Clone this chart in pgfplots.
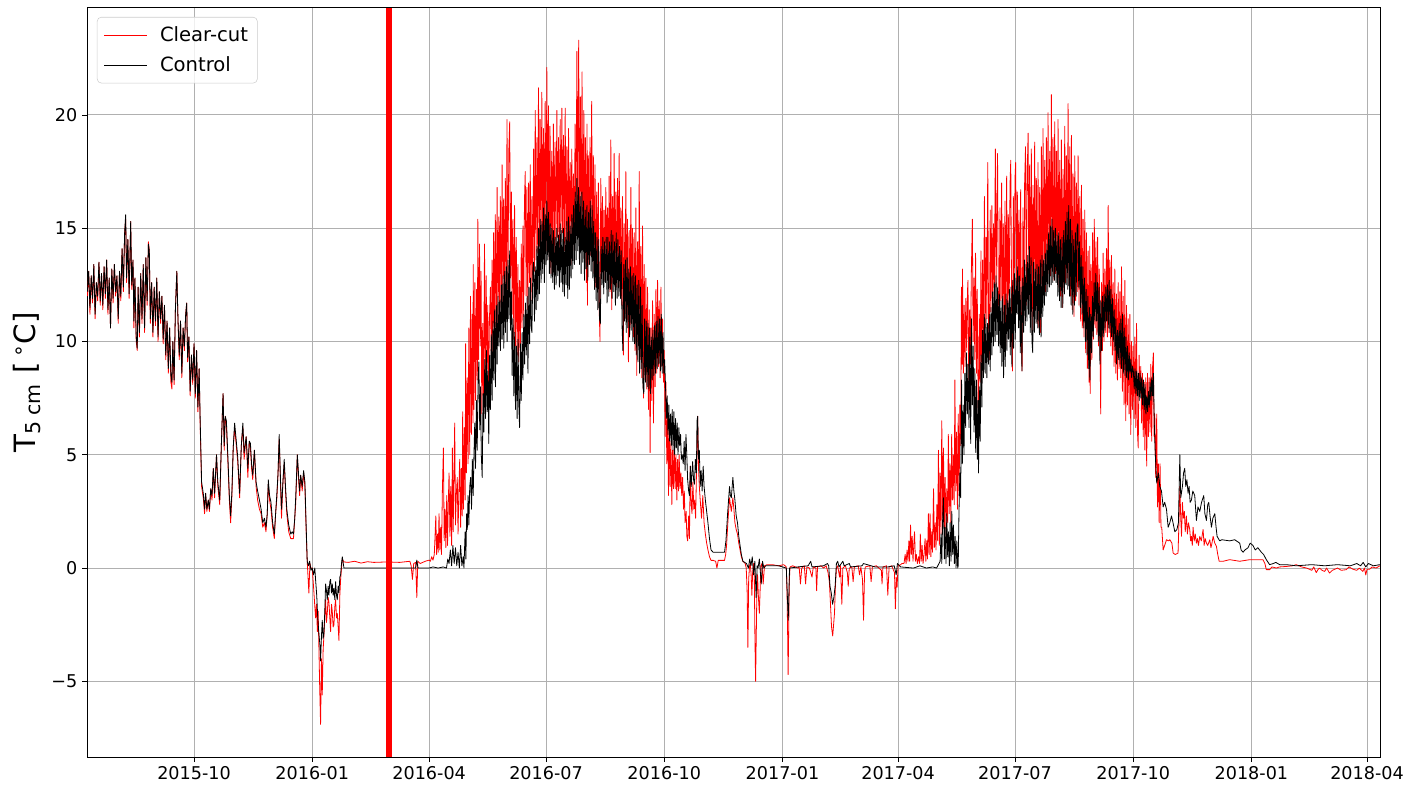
\documentclass[border=0pt]{standalone}
\usepackage{fontspec}
\setmainfont{DejaVu Sans}
\usepackage{pgfplots}
\pgfplotsset{compat=1.18}
\definecolor{gridgray}{HTML}{B0B0B0}
\definecolor{legendgray}{HTML}{CCCCCC}
\begin{document}
\begin{tikzpicture}
\begin{axis}[
 name=ax,
 scale only axis,
 width=969.75pt, height=561.75pt,
 xmin=-83.3, xmax=923.1, ymin=-8.34, ymax=24.72,
 xtick={0,92,183,274,366,458,548,639,731,823,913},
 xticklabels={2015-10,2016-01,2016-04,2016-07,2016-10,2017-01,2017-04,2017-07,2017-10,2018-01,2018-04},
 ytick={-5,0,5,10,15,20},
 yticklabels={−5,0,5,10,15,20},
 xtick pos=lower, ytick pos=left,
 tick align=outside,
 major tick length=3.75pt,
 tick style={black, line width=0.6pt},
 grid=major,
 major grid style={gridgray, line width=0.75pt},
 axis line style={black, line width=0.75pt},
 tick label style={font=\fontsize{13.2}{15.8}\selectfont, text=black},
 ylabel={T\textsubscript{5 cm} [\,\textsuperscript{∘}C]},
 ylabel style={font=\fontsize{22}{26}\selectfont, at={(axis description cs:-0.0465,0.5)}, anchor=center},
 legend style={at={(0.0077,0.988)}, anchor=north west, draw=legendgray, rounded corners=3pt, fill=white, fill opacity=0.8, draw opacity=1, text opacity=1, font=\fontsize{14.7}{17.6}\selectfont, inner xsep=5pt, inner ysep=5pt, row sep=6pt, cells={anchor=west}, /tikz/every odd column/.append style={column sep=7.5pt}},
 legend image code/.code={\draw[#1] (0pt,0pt) -- (32pt,0pt);},
]
\addplot[red, line width=0.6pt, line join=round] coordinates {
(-83,12.0) (-82,13.1) (-81,11.2) (-80,12.9) (-79,11.7) (-78,13.4) (-77,11.0) (-76,12.6) (-75,11.8) (-74,13.5) (-73,11.6) (-72,13.0) (-71,11.4) (-70,13.3) (-69,11.9) (-68,13.6) (-67,11.2) (-66,12.8) (-65,10.6) (-64,13.2) (-63,11.7) (-62,13.4) (-61,12.0) (-60,12.9) (-59,10.8) (-58,13.1) (-57,11.8) (-56,14.1) (-55,12.2) (-54,14.8) (-53.2,15.4) (-52.5,12.6) (-51.5,14.5) (-50.5,11.9) (-49.3,15.3) (-48.5,12.3) (-47.5,13.6) (-46.8,10.6) (-46,12.8) (-45,10.0) (-44.2,9.6) (-43.5,12.4) (-42.5,10.2) (-41.5,13.0) (-40.5,10.8) (-39.5,13.4) (-38.5,10.4) (-37.5,13.7) (-36.5,11.6) (-35.5,14.4) (-34.8,14.0) (-34,10.8) (-33,12.6) (-32,10.2) (-31,12.4) (-30,10.7) (-29,12.8) (-28,10.0) (-27,12.2) (-26,10.8) (-25,12.0) (-24,9.9) (-23,11.6) (-22,9.2) (-21,10.9) (-20,8.6) (-19,10.6) (-18,8.2) (-17.2,7.9) (-16.5,10.0) (-15.5,8.1) (-14.5,11.4) (-13.4,13.1) (-12.5,11.0) (-11.5,9.2) (-10.5,10.9) (-9.5,8.4) (-8.5,10.6) (-7.5,9.6) (-6.5,11.2) (-5.7,11.7) (-5,9.1) (-4,10.2) (-3,7.6) (-2,9.4) (-1,8.1) (0,9.9) (1,7.5) (2,9.6) (3,6.9) (4,8.8) (4.8,6.3) (5.9,3.6) (7.2,3.1) (8.2,2.4) (9,3.3) (10,2.5) (11.1,3.0) (12,2.5) (13,3.5) (14,3.0) (15,4.4) (16,3.1) (17.5,5.0) (18.5,3.6) (20,2.8) (21.3,5.5) (22.6,7.7) (23.5,5.2) (24.3,6.7) (25.2,6.3) (26.5,4.5) (27.5,3.0) (28.5,2.0) (29.5,3.2) (30.5,5.3) (31.6,6.2) (32.9,5.4) (34,4.7) (35.5,3.1) (36.8,5.4) (38,6.2) (39,4.8) (40.6,5.8) (41.9,4.0) (43,5.6) (43.9,5.3) (44.8,4.4) (45.7,3.9) (47,5.2) (48.3,3.6) (49.5,3.0) (50.9,2.6) (52.2,2.4) (53.5,1.8) (54.8,2.0) (56,1.6) (57,2.4) (57.8,3.7) (58.8,3.0) (59.9,2.6) (61.2,1.8) (62.5,1.3) (63.5,2.4) (64.5,3.1) (65.4,4.2) (66.3,5.7) (67.2,3.9) (68.1,2.2) (69.2,3.8) (70.2,4.6) (71.2,3.4) (72.2,2.4) (73.7,1.6) (75.3,1.3) (76.4,1.3) (77.4,1.3) (78.4,2.2) (79.2,2.9) (80.4,5.0) (81.5,3.8) (82.2,3.2) (83,4.1) (84.2,3.4) (85.3,4.2) (86.3,3.6)
(87.3,1.6) (88.1,0.3) (89.4,-1.1) (90.2,0.2) (91,0.0) (92,0.0) (93,-0.8) (93.8,-1.5) (94.6,-2.2) (95.3,-1.6) (96,-2.8) (96.6,-1.9) (97.2,-3.5) (97.8,-5.2) (98.5,-6.9) (99.2,-4.0) (99.8,-5.6) (100.5,-3.6) (101.1,-3.0) (101.8,-2.1) (102.4,-1.4) (103.1,-2.4) (103.7,-2.0) (104.4,-1.3) (105,-1.5) (105.7,-2.2) (106.3,-2.8) (107,-1.6) (107.6,-1.9) (108.3,-2.6) (108.9,-2.5) (109.6,-1.7) (110.2,-1.4) (110.9,-2.2) (111.5,-2.0) (112.2,-2.6) (112.8,-3.2) (113.5,-1.2) (114.1,-0.5) (114.8,0.0) (115.4,0.4) (116.7,0.27) (120,0.25) (125,0.3) (130,0.22) (135,0.28) (140,0.25) (150,0.27) (160,0.25) (168,0.3) (169,0.1) (170,-0.5) (171,0.2) (172.5,0.25) (173.4,-1.3) (174.2,0.3) (176,0.2) (180,0.3) (183,0.35)
(184,0.3) (185,0.5) (186,0.35) (187,0.6) (187.6,1.4) (188.2,2.3) (188.8,0.6) (189.5,1.5) (190.1,0.7) (190.7,2.4) (191.3,0.8) (192,1.8) (192.6,0.6) (193.3,3.4) (194.1,5.3) (194.7,1.2) (195.4,2.6) (196,0.9) (196.7,3.2) (197.3,1.0) (197.9,2.8) (198.5,4.2) (199.2,1.4) (199.8,3.6) (200.5,1.0) (201.1,5.3) (201.7,1.6) (202.3,4.0) (202.9,6.4) (203.5,1.9) (204.2,3.3) (204.9,4.0) (205.5,1.5) (206.2,3.6) (206.8,4.8) (207.5,1.8) (208.1,4.4) (208.7,2.3) (209.1,6.9) (209.7,2.6) (210.4,6.2) (211,3.0) (211.4,9.9) (212,4.2) (212.7,8.4) (213.3,4.6) (213.9,10.6) (214.6,5.0) (215.2,12.0) (215.9,5.9) (216.5,11.2) (217.1,6.4) (217.3,13.4) (217.9,7.0) (218.6,12.6) (219.2,7.4) (219.9,12.3) (220.5,8.3) (220.9,15.4) (221.5,9.2) (222.2,14.3) (222.8,9.8) (223.4,13.1) (224,6.8) (224.7,10.8) (225.3,7.2) (226.1,14.3) (226.7,8.2) (227.4,12.9) (228,8.5) (228.6,11.6) (229.3,7.8) (229.9,10.9) (230.7,12.4) (231.3,9.4) (232,13.6) (232.6,9.1) (233.2,14.8) (233.9,9.9) (234.5,15.6) (235.2,10.3) (235.9,16.8) (236.5,10.8) (237.2,15.5) (237.8,11.4) (238.4,16.4) (239.1,11.1) (239.8,17.8) (240.4,11.6) (241,16.3) (241.7,12.0) (242.3,17.2) (243,11.4) (243.6,19.8) (244.3,12.3) (245,18.4) (245.7,19.7) (246.3,12.8) (247,16.6) (247.6,11.2) (248.2,15.4) (248.9,10.1) (249.5,16.0) (250.2,9.8) (250.8,14.6) (251.5,9.4) (252.1,13.4) (252.7,9.1) (253.4,12.7) (254,9.6) (254.7,14.3) (255.3,10.6) (256,15.1) (256.6,11.1) (257.2,16.2) (257.8,17.5) (258.5,12.0) (259.1,16.8) (259.8,11.4) (260.4,17.0) (261.1,12.6) (261.7,17.8) (262.3,11.8) (263,16.4) (263.6,12.7) (264.3,18.5) (264.9,13.1) (265.6,20.2) (266.2,13.6) (266.9,19.0) (267.5,13.9) (268.1,21.2) (268.8,14.2) (269.4,19.8) (270.1,14.0) (270.7,21.0) (271.4,13.6) (272,19.4) (272.7,14.4) (273.3,20.6) (274,14.0) (274.6,22.1)
(275.3,14.3) (275.9,20.4) (276.5,13.6) (277.1,19.5) (277.8,13.0) (278.4,18.4) (279.1,14.0) (279.7,19.6) (280.4,13.8) (281,18.8) (281.7,14.2) (282.4,20.2) (283,14.6) (283.7,19.0) (284.3,13.9) (285,19.8) (285.6,14.4) (286.3,20.3) (286.9,14.8) (287.6,19.1) (288.2,14.0) (288.9,20.3) (289.5,13.8) (290.2,18.6) (290.8,13.5) (291.5,19.4) (292.1,14.1) (292.8,17.9) (293.4,13.4) (294,18.5) (294.7,14.0) (295.3,17.4) (296,14.6) (296.6,19.6) (297.3,15.0) (298,22.8) (298.6,15.4) (299.4,23.3) (300,15.0) (300.7,20.8) (301.3,14.8) (302,21.9) (302.6,14.2) (303.4,20.2) (304,13.9) (304.6,19.0) (305.3,12.6) (305.9,19.6) (306.2,11.6) (306.9,18.2) (307.5,13.4) (308.2,19.0) (308.8,13.8) (309.5,20.6) (310.1,14.1) (310.8,18.2) (311.4,13.0) (312.1,17.8) (312.7,12.4) (313.4,16.6) (314,12.2) (314.7,17.0) (315.3,11.6) (316,10.0) (316.6,17.2) (317.3,13.0) (317.9,16.4) (318.6,13.2) (319.2,15.8) (319.9,12.7) (320.5,16.8) (321.2,13.1) (321.8,15.9) (322.5,12.8) (323.1,17.3) (323.8,12.2) (324.4,18.9) (325.1,11.4) (325.7,16.4) (326.4,12.6) (327,18.3) (327.7,13.2) (328.3,16.6) (329,12.4) (329.6,17.2) (330.3,12.8) (330.9,18.3) (331.6,12.4) (332.2,15.9) (332.9,11.6) (333.5,16.4) (334.2,9.4) (334.8,15.2) (335.5,11.0) (336.1,17.5) (336.8,10.9) (337.4,15.4) (338.1,9.1) (338.7,14.9) (339.4,10.6) (340,16.8) (340.7,10.8) (341.3,15.0) (342,10.2) (342.6,14.8) (343.3,9.6) (343.9,15.9) (344.6,8.5) (345.2,14.4) (345.9,9.8) (346.5,17.5) (347.2,9.2) (347.8,14.2) (348.5,8.4) (349.1,15.1) (349.8,7.5) (350.4,13.4) (351.1,8.3) (351.7,12.8) (352.4,7.9) (353,12.4) (353.7,7.0) (354.3,11.4) (355,5.1) (355.6,10.6) (356.3,7.4) (356.9,11.8) (357.6,6.4) (358.2,11.2) (358.9,8.0) (359.5,12.3) (360.2,8.6) (360.8,12.7) (361.5,8.9) (362.1,11.8) (362.8,8.4) (363.4,12.4) (364.1,8.9) (364.7,11.0) (365.4,8.2) (366,9.6) (366.7,5.8) (367.3,8.2) (368,4.6) (368.6,7.2) (369.3,3.2) (369.9,6.2) (370.6,3.6) (371.2,5.6) (371.9,2.8) (372.5,5.2) (373.2,3.5) (373.8,5.6) (374.5,3.5) (375.1,5.0) (375.8,3.0) (376.4,4.8) (377.1,3.4) (377.6,5.0) (378.3,3.5) (379,4.2) (379.6,3.2) (380.3,4.0) (381,2.6) (381.6,3.4) (382.2,2.0) (383,2.5) (383.6,1.4) (384.2,1.2) (385,2.3) (385.6,1.3) (386.3,4.5) (387,2.8) (387.6,2.4) (388.3,3.8) (389,2.6) (389.7,3.0) (390.4,2.2) (391.2,4.6) (392,6.7) (392.6,4.5) (393.3,3.6) (394,3.0) (395,2.2) (396,3.2) (397,2.0) (398,1.5) (399,1.1) (400,0.8) (401.2,0.5) (402.4,0.34) (404,0.34) (406,0.3) (407,0.0) (408,0.34) (412.9,0.34) (413.8,0.6) (414.5,1.0) (415.5,2.0) (416.8,3.1) (417.5,2.8) (418.2,2.5) (419.4,3.1) (420.2,2.6) (421,2.0) (422,1.7) (423,1.5) (424,1.1) (425,0.8) (426,0.5) (427.2,0.3) (429,0.2) (429.8,0.0) (430.5,-1.0) (431.1,-3.5) (431.7,-0.5) (432.4,0.1) (433,0.2) (433.6,-0.3) (434.2,-1.2) (434.8,-0.2) (435.5,0.2) (436.1,-0.4) (436.6,-3.2) (437.1,-5.0) (437.6,-3.0) (438.1,-1.0) (438.6,-0.3) (439.3,-1.3) (440,-2.0) (440.6,-1.0) (441.2,0.1) (442,0.2) (443,-0.7) (444,0.1) (446,0.15) (450,0.15) (455,0.1) (459,0.15) (461,0.05) (461.6,-1.2) (462.1,-3.2) (462.4,-4.7) (462.8,-3.0) (463.3,-0.6) (463.9,0.05) (466,0.1) (470,0.0) (471,0.05) (472,-0.7) (473,0.0) (475,0.1) (476,-0.7) (477,0.05) (479,0.0) (481,-0.4) (482,0.05) (484,0.0) (484.6,-1.0) (485.3,0.05) (488,0.1) (490,0.0) (492,0.1) (493.5,-0.2) (494.5,-0.6) (495.3,-1.5) (496.2,-2.6) (497.1,-3.0) (497.8,-2.5) (498.5,-2.0) (499.2,-0.8) (500,0.0) (501,0.1) (502.5,-0.4) (503.2,0.1) (504.2,-1.6) (505,0.0) (507,0.1) (508.5,-0.2) (509.2,-0.8) (510,0.0) (512,0.05) (513,-0.6) (514,0.05) (517,0.1) (518,-0.3) (519,0.05) (520.3,-0.5) (521.1,-2.3) (521.9,-0.2) (522.5,0.05) (526,0.1) (527,-0.6) (528,0.05) (531,0.1) (533,0.0) (535,-0.1) (535.5,-0.7) (536.2,0.05) (539,0.1) (540,-1.2) (541,0.05) (543,0.1) (545.2,-0.2) (545.9,-1.8) (546.6,-0.4) (547.2,-0.85) (548,0.1) (550,0.15)
(551,0.2) (552.6,0.2) (553.5,0.6) (554.2,0.2) (555,0.8) (555.7,0.3) (556.4,1.2) (557,0.3) (557.7,1.9) (558.3,0.6) (559,1.4) (559.6,0.3) (560.2,1.0) (560.8,1.6) (561.5,0.3) (562.2,0.6) (563,0.2) (564,0.5) (564.7,0.2) (565.3,1.5) (566,0.3) (566.7,1.0) (567.4,0.2) (568.2,0.6) (569,1.3) (569.6,0.3) (570.3,1.2) (570.9,0.4) (571.6,2.4) (572.2,0.6) (572.9,2.4) (573.5,0.5) (574.2,1.6) (574.8,0.7) (575.6,3.5) (576.2,0.9) (576.9,2.0) (577.5,0.8) (578.2,2.8) (578.8,1.2) (579.4,5.2) (580.1,1.0) (580.7,4.2) (581.4,1.5) (582,6.5) (582.7,2.2) (583.3,5.3) (584,1.8) (584.6,4.0) (585.3,1.4) (585.9,3.5) (586.6,2.0) (587.1,5.9) (587.8,2.4) (588.4,4.6) (589.1,2.0) (589.7,5.9) (590.4,3.0) (591,5.0) (591.7,2.8) (592.2,8.3) (592.9,3.4) (593.5,6.0) (594.2,2.6) (594.8,6.8) (595.5,3.2) (596.1,7.2) (596.8,5.4) (597.3,12.4) (597.9,9.0) (598.1,13.2) (598.8,8.6) (599.4,11.6) (600.1,8.9) (600.7,11.9) (601.4,9.6) (602,12.2) (602.4,12.7) (603,8.3) (603.7,11.4) (604.3,9.0) (605,13.0) (605.8,15.4) (606.4,10.0) (607.1,12.8) (607.7,9.2) (608.3,13.9) (609,8.6) (609.6,12.3) (610.3,7.1) (610.6,6.1) (611.2,11.2) (611.9,8.2) (612.5,14.0) (613.1,8.5) (613.8,13.6) (614.4,9.8) (615.2,16.4) (615.8,10.6) (616.5,14.6) (617.1,11.0) (617.8,17.9) (618.4,10.8) (619,9.2) (619.7,15.8) (620.3,11.3) (621,16.0) (621.6,11.6) (622.3,15.2) (622.9,12.0) (623.7,18.5) (624.3,12.4) (625.4,18.3) (626,12.0) (626.7,11.0) (627.3,15.9) (628,11.8) (628.6,17.0) (629.3,10.9) (629.9,15.2) (630.6,10.4) (631.2,16.2) (631.8,9.8) (632.5,17.3) (633.1,11.2) (633.8,15.6) (634.4,10.9) (635.1,16.9) (635.7,18.0) (636.4,11.2) (637,8.7) (637.7,16.4) (638.3,11.8) (639,17.2) (639.5,17.9) (640.2,12.4) (640.8,16.6) (641.5,12.0) (642.1,15.8) (642.8,11.2) (643.4,16.7) (644.1,9.6) (644.5,8.7) (645.2,15.9) (645.8,10.8) (646.5,17.0) (647.2,18.6) (647.8,11.6) (648.5,17.4) (649.2,19.2) (649.8,11.8) (650.4,17.8) (651.1,11.2) (651.7,18.5) (652.4,10.4) (653,16.9) (653.7,11.8) (654.3,18.8) (655,11.4) (655.6,17.2) (656.3,10.8) (656.9,17.9) (657.6,10.6) (658.2,16.8) (658.9,10.4) (659.5,18.6) (660.2,11.8) (660.8,19.4) (661.5,12.3) (662.1,18.0) (662.8,12.2) (663.4,19.0) (664.1,12.6) (664.7,20.1) (665.4,13.0) (666,18.4) (666.7,12.9) (667.3,20.9) (668,13.2) (668.6,19.0) (669.3,12.7) (669.9,19.7) (670.6,13.0) (671.2,18.4) (671.9,12.8) (672.5,19.8) (673.2,12.4) (673.8,18.0) (674.5,12.0) (675.1,18.9) (675.8,11.5) (676.4,17.6) (677.1,12.2) (677.7,19.5) (678.4,12.6) (679,18.2) (679.7,12.8) (680.3,20.5) (681,12.5) (681.6,18.6) (682.3,12.0) (682.9,19.1) (683.6,11.4) (684.2,17.4) (684.9,11.1) (685.5,18.2) (686.2,11.8) (686.8,17.0) (687.5,12.2) (688.1,18.2) (688.8,11.6) (689.4,16.4) (690.1,10.9) (690.7,16.9) (691.4,10.6) (692,15.4) (692.7,10.2) (693.3,15.8) (694,9.5) (694.6,14.8) (695.3,8.8) (695.9,14.0) (696.6,8.2) (697.2,14.2) (697.5,7.7) (698.1,13.4) (698.8,9.2) (699.4,14.8) (700.1,10.1) (700.7,15.4) (701.4,10.6) (702,14.4) (702.7,10.3) (703.3,14.6) (704,9.8) (704.6,13.2) (705.3,9.2) (705.7,6.8) (706.3,12.6) (707,9.6) (707.6,13.9) (708.3,10.0) (708.9,13.2) (709.6,10.4) (710.2,14.1) (710.9,10.2) (711.5,16.0) (712.2,10.4) (712.8,13.6) (713.5,9.8) (714.1,13.8) (714.8,9.4) (715.4,12.6) (716.1,8.9) (716.7,13.2) (717.4,8.6) (718,12.1) (718.7,8.3) (719.3,12.6) (720,8.8) (720.6,12.2) (721.3,8.4) (721.9,13.3) (722.6,7.8) (723.2,12.0) (723.9,7.2) (724.5,12.7) (725.2,6.5) (725.8,11.6) (726.5,7.2) (727.1,11.0) (727.8,6.8) (728.4,11.2) (729.1,5.9) (729.7,10.0) (730.4,7.0) (731,9.8) (731.7,6.6) (732.3,10.2) (733,6.2) (733.6,10.8) (734.3,6.0) (734.9,5.3) (735.6,9.4) (736.2,7.7) (736.9,8.9) (737.5,6.4) (738.2,8.6) (738.8,5.8) (739.5,8.2) (740.1,5.2) (740.8,8.4) (741.5,4.5) (742.1,8.6) (742.8,5.8) (743.4,8.4) (744.1,6.0) (744.7,9.0) (745.4,5.6) (746,8.8) (746.7,9.5) (747.3,5.8) (747.8,6.8) (748.5,4.0) (749.3,6.8) (749.9,2.7) (750.6,4.6) (751.2,2.0) (751.9,4.6) (752.6,1.8) (753.2,1.8) (754.3,0.8) (755.5,1.0) (756.9,1.25) (758.5,1.2) (759.5,1.25) (761.1,1.1) (762.1,0.66) (763.7,0.6) (765.9,0.66) (766.6,2.0) (767.3,3.6) (768,2.2) (768.6,1.4) (769.3,2.9) (770,2.2) (770.8,2.5) (771.5,1.6) (772.4,2.3) (773.2,1.5) (774,2.0) (775,1.7) (775.7,1.2) (776.3,1.4) (777,1.0) (777.6,1.8) (778.5,1.2) (779.3,1.5) (780.2,1.1) (781,1.3) (781.8,1.0) (782.8,1.4) (784,1.2) (785.4,1.7) (786.2,1.0) (787,1.3) (788,1.1) (789,1.0) (790.6,1.25) (791.5,0.9) (792.3,1.1) (793.2,1.4) (794.5,1.1) (795.8,0.95) (796.8,0.6) (797.9,0.3) (801,0.3) (806.1,0.37) (813.9,0.3) (821.7,0.37) (832,0.37) (833.5,0.2) (834.6,-0.07) (837.2,-0.07) (839,0.05) (842.4,0.0) (845,0.05) (850,0.07) (855,0.1) (857.9,0.15) (862,0.05) (866,0.0) (870,-0.1) (871.5,0.05) (873.5,-0.2) (875,-0.05) (876,0.0) (878,-0.1) (880,-0.15) (881.5,0.0) (883.8,-0.22) (886,-0.1) (888,-0.05) (890,0.0) (893,-0.1) (896.8,-0.07) (899,0.05) (902,-0.05) (905,-0.1) (907,0.0) (909.7,-0.15) (911,0.0) (912,-0.3) (913,-0.05) (915,-0.05) (917,0.05) (920,0.0) (923,0.1)
};
\addlegendentry{Clear-cut}
\addplot[black, line width=0.6pt, line join=round] coordinates {
(-83,12.2) (-82,13.1) (-81,11.5) (-80,12.9) (-79,11.9) (-78,13.4) (-77,11.2) (-76,12.6) (-75,12.0) (-74,13.5) (-73,11.8) (-72,13.0) (-71,11.6) (-70,13.3) (-69,12.1) (-68,13.6) (-67,11.4) (-66,12.8) (-65,10.6) (-64,13.2) (-63,11.9) (-62,13.4) (-61,12.2) (-60,12.9) (-59,11.0) (-58,13.1) (-57,12.0) (-56,14.1) (-55,12.4) (-54,14.8) (-53.2,15.6) (-52.5,12.8) (-51.5,14.5) (-50.5,12.1) (-49.3,15.3) (-48.5,12.5) (-47.5,13.6) (-46.8,10.9) (-46,12.8) (-45,10.2) (-44.2,9.7) (-43.5,12.4) (-42.5,10.4) (-41.5,13.0) (-40.5,11.0) (-39.5,13.4) (-38.5,10.6) (-37.5,13.7) (-36.5,11.8) (-35.5,14.3) (-34.8,14.0) (-34,11.0) (-33,12.6) (-32,10.4) (-31,12.4) (-30,10.9) (-29,12.8) (-28,10.2) (-27,12.2) (-26,11.0) (-25,12.0) (-24,10.1) (-23,11.6) (-22,9.4) (-21,10.9) (-20,8.8) (-19,10.6) (-18,8.5) (-17.2,8.2) (-16.5,10.0) (-15.5,8.3) (-14.5,11.4) (-13.4,13.1) (-12.5,11.0) (-11.5,9.4) (-10.5,10.9) (-9.5,8.6) (-8.5,10.6) (-7.5,9.8) (-6.5,11.2) (-5.7,11.7) (-5,9.3) (-4,10.2) (-3,7.8) (-2,9.4) (-1,8.3) (0,9.9) (1,7.7) (2,9.6) (3,7.1) (4,8.8) (4.8,6.5) (5.9,3.8) (7.2,3.3) (8.2,2.6) (9,3.3) (10,2.6) (11.1,3.0) (12,2.6) (13,3.5) (14,3.2) (15,4.4) (16,3.3) (17.5,5.0) (18.5,3.8) (20,3.0) (21.3,5.5) (22.6,7.7) (23.5,5.4) (24.3,6.7) (25.2,6.5) (26.5,4.7) (27.5,3.2) (28.5,2.3) (29.5,3.4) (30.5,5.3) (31.6,6.4) (32.9,5.6) (34,4.9) (35.5,3.3) (36.8,5.4) (38,6.4) (39,5.1) (40.6,5.8) (41.9,4.4) (43,5.6) (43.9,5.5) (44.8,4.6) (45.7,4.1) (47,5.2) (48.3,3.8) (49.5,3.4) (50.9,3.0) (52.2,2.6) (53.5,2.0) (54.8,2.2) (56,1.8) (57,2.4) (57.8,3.9) (58.8,3.2) (59.9,2.9) (61.2,2.0) (62.5,1.5) (63.5,2.4) (64.5,3.3) (65.4,4.2) (66.3,5.9) (67.2,4.1) (68.1,2.6) (69.2,3.8) (70.2,4.8) (71.2,3.6) (72.2,2.6) (73.7,1.9) (75.3,1.5) (76.4,1.6) (77.4,1.5) (78.4,2.2) (79.2,3.2) (80.4,5.0) (81.5,4.0) (82.2,3.4) (83,4.1) (84.2,3.6) (85.3,4.3) (86.3,3.8) (87.3,1.8) (88.1,0.3) (89,0.1) (90,0.3) (91,-0.1) (92,0.0) (93,-0.3) (94,0.0) (94.6,-0.5) (95.5,-1.2) (96.3,-2.2) (97.2,-2.9) (98,-3.4) (98.5,-4.1) (99.2,-3.0) (99.8,-2.3) (100.5,-3.1) (101.1,-2.9) (101.8,-1.9) (102.4,-0.7) (103.1,-1.0) (103.7,-1.4) (104.4,-0.8) (105,-1.2) (105.7,-0.6) (106.3,-0.5) (107,-1.1) (107.6,-0.7) (108.3,-1.2) (108.9,-0.9) (109.6,-1.4) (110.2,-0.6) (110.9,-1.2) (111.5,-1.4) (112.2,-0.8) (112.8,-1.1) (113.5,-0.4) (114.1,-0.3) (114.8,0.2) (115.4,0.5) (116.7,0.0) (172.5,0.0) (173.4,0.35) (174.3,0.0) (183,0.0)
(186,0.05) (190,0.0) (194,0.05) (196.5,0.0) (197.5,0.4) (198.5,0.2) (199.5,0.8) (200.5,0.1) (201.5,1.0) (202.5,0.2) (203.5,0.9) (204.5,0.1) (205.5,0.7) (206.5,0.0) (207.5,1.0) (208.5,0.1) (209.5,0.5) (210.1,0.0) (211,1.6) (211.6,0.4) (212.2,2.4) (212.7,1.7) (213.3,3.2) (213.9,1.9) (214.6,3.6) (215.3,4.0) (216,2.6) (216.6,4.8) (217.3,3.2) (217.8,4.8) (218.5,6.4) (219.1,4.4) (219.8,7.4) (220.4,5.2) (221.1,8.3) (221.7,9.1) (222.4,6.1) (223,8.0) (223.6,5.0) (224.3,4.0) (225,7.7) (225.6,6.0) (226.3,9.2) (226.9,6.6) (227.6,9.6) (228.2,6.9) (228.8,8.7) (229.4,5.5) (230.1,9.4) (230.7,7.0) (231.4,10.3) (232,7.4) (232.7,10.9) (233.3,8.3) (234,11.4) (234.6,8.0) (235.3,11.6) (235.9,9.0) (236.6,12.0) (237.2,9.8) (237.9,11.8) (238.5,9.6) (239.2,12.5) (239.8,10.1) (240.5,12.9) (241.1,9.7) (241.8,13.1) (242.4,10.4) (243.1,13.3) (243.7,10.0) (244.4,13.6) (245,11.0) (245.7,14.0) (246.3,10.5) (247,12.2) (247.6,8.5) (248.3,11.0) (248.9,7.6) (249.6,10.4) (250.2,7.0) (250.9,9.8) (251.5,6.6) (252.2,10.1) (252.8,7.2) (253.4,6.2) (254.1,9.9) (254.7,7.4) (255.4,10.4) (256,8.3) (256.7,11.2) (257.3,9.0) (258,11.7) (258.6,9.4) (259.3,12.0) (259.9,8.6) (260.6,12.4) (261.2,9.9) (261.9,12.8) (262.5,10.6) (263,10.4) (263.7,13.1) (264.3,13.5) (265,10.9) (265.6,13.3) (266.3,11.4) (266.9,14.2) (267.6,11.8) (268.2,15.0) (268.8,12.1) (269.5,15.4) (270.1,12.6) (270.8,15.3) (271.4,13.0) (272.1,15.9) (272.7,12.6) (273.4,15.6) (274,13.4) (274.6,16.2)
(275.3,13.6) (275.9,15.7) (276.6,13.0) (277.2,15.2) (277.9,12.8) (278.5,15.0) (279.2,12.6) (279.8,14.9) (280.5,12.3) (281.1,14.6) (281.8,12.5) (282.4,15.0) (283.1,12.9) (283.7,14.7) (284.4,12.4) (285,15.2) (285.7,12.6) (286.3,14.9) (287,12.2) (287.6,15.0) (288.3,12.0) (288.9,14.6) (289.6,12.5) (290.2,15.3) (290.9,11.9) (291.5,15.5) (292.2,12.3) (292.8,15.1) (293.5,12.8) (294.1,15.6) (294.8,13.2) (295.4,16.0) (296.1,13.4) (296.7,16.6) (297.4,13.6) (298,17.2) (298.7,14.0) (299.3,16.8) (300,13.4) (300.6,16.4) (301.3,13.0) (301.9,16.6) (302.6,13.5) (303.2,16.2) (303.9,12.7) (304.5,15.8) (305.2,13.2) (305.8,16.0) (306.5,12.7) (307.1,15.7) (307.8,13.4) (308.4,16.2) (309.1,13.1) (309.8,16.0) (310.4,12.8) (311.1,15.3) (311.7,12.3) (312.4,14.8) (313,11.8) (313.7,14.6) (314.3,11.4) (315,14.5) (315.6,11.0) (316.3,10.8) (316.9,14.2) (317.6,12.5) (318.2,14.6) (318.9,12.1) (319.5,14.4) (320.2,12.6) (320.8,14.6) (321.5,11.7) (322.1,14.6) (322.8,12.0) (323.4,14.4) (324.1,12.3) (324.7,14.9) (325.4,11.9) (326,14.7) (326.7,12.2) (327.3,14.4) (328,11.6) (328.6,14.8) (329.3,11.9) (329.9,14.5) (330.6,12.0) (331.2,14.2) (331.9,11.9) (332.5,14.0) (333.2,10.6) (333.8,9.6) (334.5,13.4) (335.1,10.9) (335.8,13.6) (336.4,10.4) (337.1,13.7) (337.7,10.6) (338.4,13.2) (339,10.2) (339.7,13.3) (340.3,10.5) (341,12.9) (341.6,10.0) (342.3,13.0) (342.9,9.9) (343.6,12.9) (344.2,9.4) (344.9,12.5) (345.5,9.1) (346.2,12.7) (346.8,8.6) (347.5,12.4) (348.1,8.8) (348.8,11.6) (349.4,8.0) (350.1,7.7) (350.7,11.0) (351.4,8.2) (352,10.9) (352.7,8.0) (353.3,10.8) (354,7.9) (354.6,10.6) (355.3,7.7) (355.9,10.2) (356.6,8.3) (357.2,10.5) (357.9,8.5) (358.5,10.7) (359.2,8.6) (359.8,10.9) (360.5,8.8) (361.1,11.1) (361.8,9.0) (362.4,11.0) (363.1,8.7) (363.7,11.2) (364.4,8.6) (365,10.4) (365.7,8.6) (366.3,9.2) (367,8.0) (367.6,6.6) (368.3,7.6) (368.9,5.9) (369.6,7.2) (370.2,5.6) (370.9,6.8) (371.5,5.4) (372.2,7.0) (372.8,5.2) (373.5,6.9) (374.1,5.0) (374.8,6.6) (375.4,5.3) (376.1,6.4) (376.7,5.0) (377.4,6.2) (378,5.4) (378.7,5.9) (379.3,4.8) (380,5.0) (380.8,4.6) (381.5,5.6) (382.2,4.3) (382.9,5.9) (383.6,4.9) (384.2,3.9) (385,3.4) (385.6,3.2) (386.3,4.5) (387,3.6) (388.1,4.7) (388.8,3.9) (389.5,3.7) (390.2,4.8) (391,4.2) (391.5,6.5) (392,6.7) (392.6,4.8) (393.3,5.2) (394,3.6) (394.7,4.3) (395.5,3.4) (396.3,4.5) (397,3.6) (398,3.0) (399,2.5) (400,2.0) (401.2,1.3) (402.4,0.8) (404,0.7) (412.9,0.7) (414,1.2) (415.3,2.4) (416.8,3.6) (417.5,3.2) (418.2,3.1) (419.4,4.0) (420.2,3.4) (421,3.0) (422,2.3) (423,2.0) (424,1.4) (425,1.0) (426,0.6) (427.2,0.3) (430,0.2) (431.5,0.0) (432.5,0.4) (433.5,0.1) (434.5,0.5) (435.5,-0.3) (436.5,0.3) (437.5,-1.3) (438.3,0.1) (439,0.0) (440,0.4) (441.5,-0.7) (442.5,0.3) (443.5,0.0) (445,0.1) (455,0.1) (461,0.0) (462.5,-2.3) (463.5,0.0) (470,0.05) (478,0.1) (480,0.3) (481,0.05) (490,0.1) (493,0.2) (494,0.1) (495,-0.8) (496,-1.1) (497,-1.6) (498,-1.3) (499,-0.8) (500,0.2) (501,0.3) (502,0.05) (505,0.3) (506,0.1) (510,0.2) (511,0.05) (520,0.1) (521,0.2) (530,0.05) (540,0.05) (545,0.1) (546.5,-0.3) (547.5,0.2) (550,0.05)
(560,0.0) (565,0.1) (570,0.0) (575,0.05) (578,0.0) (580.7,0.3) (581.4,1.5) (582,0.2) (582.7,2.2) (583.3,3.1) (584,0.4) (584.6,1.8) (585.3,0.2) (585.9,2.4) (586.6,0.5) (587.2,1.6) (587.9,0.1) (588.5,2.0) (589.2,0.3) (589.8,2.5) (590.5,0.6) (591.1,1.9) (591.8,0.2) (592.4,1.4) (593.1,0.0) (593.7,1.2) (594.4,0.0) (594.8,0.1) (595.4,2.5) (596.1,4.2) (596.7,3.1) (597.4,8.3) (598,4.6) (598.7,7.2) (599.3,5.0) (600,8.6) (600.6,6.2) (601.2,9.5) (601.9,6.8) (602.5,9.0) (603.2,6.2) (603.8,10.2) (604.5,5.5) (605.1,11.0) (605.8,7.2) (606.4,9.8) (607.1,6.0) (607.7,8.8) (608.4,5.1) (609,8.3) (609.7,4.8) (610.3,7.4) (610.6,4.2) (611.2,8.0) (611.9,5.6) (612.5,9.4) (613.2,7.1) (613.8,10.5) (614.5,8.4) (615.1,11.2) (615.8,8.6) (616.4,11.0) (617.1,8.4) (617.7,10.8) (618.4,9.0) (619,11.2) (619.7,8.7) (620.3,11.5) (621,9.4) (621.6,12.2) (622.3,9.8) (622.9,12.6) (623.6,10.0) (624.2,12.9) (624.9,10.3) (625.5,12.4) (626.2,9.8) (626.8,12.1) (627.5,9.5) (628.1,11.8) (628.8,8.9) (629.4,12.0) (630.1,8.4) (630.7,11.6) (631.4,8.9) (632,12.1) (632.7,9.6) (633.3,11.8) (634,10.1) (634.6,12.3) (635.3,9.4) (635.9,12.4) (636.6,8.9) (637.2,12.7) (637.9,9.7) (638.5,13.0) (639.2,10.1) (639.8,12.8) (640.5,11.2) (641.1,13.3) (641.8,10.6) (642.4,12.9) (643.1,9.5) (643.7,12.4) (644.4,8.7) (645,12.8) (645.7,10.4) (646.3,13.6) (647,10.7) (647.6,13.4) (648.3,10.9) (648.9,13.8) (649.6,11.2) (650.2,14.2) (650.9,10.4) (651.5,13.7) (652.2,10.0) (652.8,9.5) (653.5,13.5) (654.1,10.4) (654.8,13.2) (655.4,10.8) (656.1,13.4) (656.7,10.6) (657.4,13.3) (658,10.3) (658.7,13.6) (659.3,10.2) (660,13.8) (660.6,11.1) (661.3,13.6) (661.9,11.6) (662.6,13.9) (663.2,12.0) (663.9,14.3) (664.5,12.2) (665.2,14.8) (665.8,12.4) (666.5,15.1) (667.1,12.5) (667.8,15.4) (668.4,12.6) (669.1,14.9) (669.7,12.7) (670.4,15.0) (671,12.6) (671.7,14.7) (672.3,12.0) (673,14.8) (673.6,11.8) (674.3,14.5) (674.9,11.5) (675.6,14.6) (676.2,11.5) (676.9,14.9) (677.5,12.1) (678.2,15.3) (678.8,12.5) (679.5,15.7) (680.1,12.3) (680.8,16.0) (681.4,12.0) (682.1,15.4) (682.7,11.6) (683.4,14.9) (684,11.2) (684.7,14.5) (685.3,11.6) (686,14.8) (686.6,12.0) (687.3,15.0) (687.9,15.2) (688.6,12.4) (689.2,14.4) (689.9,11.5) (690.5,13.8) (691.2,11.2) (691.8,13.3) (692.5,10.6) (693.1,12.8) (693.8,10.0) (694.4,12.3) (695.1,9.4) (695.7,12.0) (696.4,8.8) (697,11.5) (697.3,8.3) (698,11.2) (698.6,9.5) (699.3,12.0) (699.9,10.2) (700.6,12.6) (701.2,10.9) (701.9,13.0) (702.5,10.9) (703.2,12.6) (703.8,10.0) (704.5,12.4) (705.1,9.0) (705.8,11.8) (706.4,9.6) (707.1,12.0) (707.7,10.2) (708.4,12.1) (709,10.5) (709.7,12.4) (710.3,10.9) (711,12.5) (711.6,10.6) (712.3,12.7) (712.9,10.4) (713.6,12.3) (714.2,10.2) (714.9,11.9) (715.5,10.0) (716.2,11.4) (716.8,9.6) (717.5,11.0) (718.1,9.0) (718.8,10.5) (719.4,9.2) (720.1,10.8) (720.7,9.0) (721.4,11.0) (722,8.8) (722.7,11.2) (723.3,8.6) (724,10.6) (724.6,8.5) (725.3,10.2) (725.9,8.4) (726.6,9.8) (727.2,8.3) (727.9,9.5) (728.5,8.6) (729.2,9.2) (729.8,8.4) (730.5,8.9) (731.1,8.7) (731.8,7.9) (732.4,8.8) (733.1,7.7) (733.7,8.7) (734.4,7.6) (735,8.6) (735.7,7.4) (736.3,8.6) (737,7.5) (737.6,8.4) (738.3,7.2) (738.9,8.3) (739.6,7.0) (740.2,8.1) (740.9,6.8) (741.5,7.6) (742.2,6.9) (742.8,7.8) (743.5,7.1) (744.1,8.2) (744.8,7.4) (745.4,8.4) (746.1,7.6) (746.7,8.6) (747.4,6.4) (748,5.3) (748.6,4.5) (749.3,3.75) (750.6,4.2) (751.7,3.6) (753,3.4) (754.3,2.7) (755.5,2.9) (756.9,2.6) (758.2,1.8) (759.5,2.0) (760.8,2.3) (762,2.0) (763.4,1.6) (765,1.7) (766.2,2.0) (767.3,5.0) (768,3.1) (769.3,3.6) (770.2,4.2) (771.1,4.4) (771.9,3.6) (772.8,3.9) (773.7,3.3) (774.5,3.6) (775.3,2.9) (776.3,3.0) (777.4,3.4) (778.9,3.2) (779.6,2.6) (780.2,2.1) (781.4,2.7) (782.8,2.5) (784.2,2.9) (785.9,3.2) (786.8,2.4) (788,2.1) (789,2.8) (789.8,2.9) (790.8,2.3) (791.9,1.8) (793,2.2) (794.5,2.4) (795.5,1.8) (796.3,1.4) (798.3,1.2) (800,1.25) (806.1,1.2) (810,1.25) (813.9,1.1) (815,0.8) (816.5,0.7) (818,0.8) (820.4,0.9) (822,1.1) (824.2,1.0) (826,0.8) (828,0.9) (830.7,0.7) (832.5,0.6) (834.6,0.37) (836,0.25) (837.2,0.15) (840,0.2) (842,0.25) (845,0.15) (850,0.15) (857.9,0.1) (870,0.15) (880,0.1) (890,0.15) (900,0.1) (905,0.2) (908,0.1) (910,0.25) (912,0.05) (914,0.2) (918,0.1) (923,0.15)
};
\addlegendentry{Control}
\addplot[red, line width=4.5pt, forget plot] coordinates {(152,-8.34) (152,24.72)};
\end{axis}
\pgfresetboundingbox
\path[use as bounding box] ([xshift=-65.25pt,yshift=-24.75pt]ax.south west) rectangle ([xshift=33pt,yshift=6pt]ax.north east);
\end{tikzpicture}
\end{document}
